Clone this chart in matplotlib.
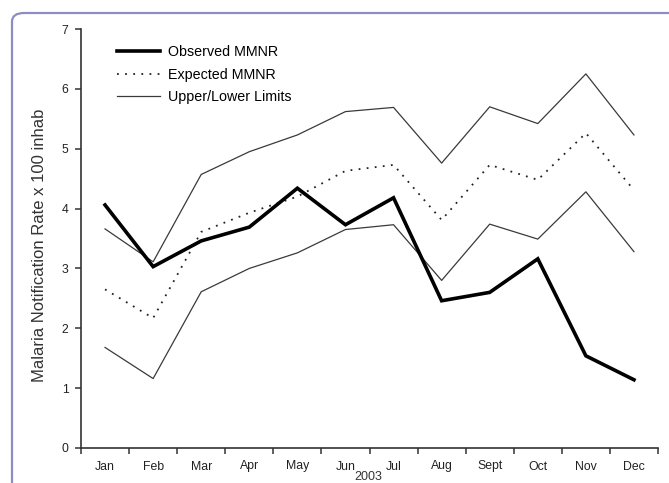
import matplotlib
matplotlib.use("Agg")
import matplotlib.pyplot as plt
from matplotlib.patches import FancyBboxPatch
from matplotlib.lines import Line2D

plt.rcParams['font.family'] = ['Liberation Sans', 'DejaVu Sans']

months = ["Jan", "Feb", "Mar", "Apr", "May", "Jun", "Jul", "Aug", "Sept", "Oct", "Nov", "Dec"]
observed = [4.06, 3.03, 3.46, 3.69, 4.34, 3.73, 4.18, 2.46, 2.60, 3.16, 1.54, 1.14]
expected = [2.65, 2.17, 3.61, 3.93, 4.20, 4.63, 4.73, 3.81, 4.73, 4.48, 5.26, 4.31]
upper = [3.66, 3.11, 4.57, 4.95, 5.23, 5.62, 5.69, 4.76, 5.70, 5.42, 6.25, 5.23]
lower = [1.68, 1.16, 2.61, 3.00, 3.26, 3.65, 3.73, 2.80, 3.74, 3.49, 4.28, 3.28]
yticks = [0, 1, 2, 3, 4, 5, 6, 7]
year_label = "2003"
ylabel = "Malaria Notification Rate x 100 inhab"

W, H = 669, 483
fig = plt.figure(figsize=(W / 100, H / 100), dpi=100)

# frame (rounded border, top/left visible)
frame = FancyBboxPatch((12 / W, -0.2), 1.2, (H - 13) / H + 0.2,
                       boxstyle="round,pad=0,rounding_size=0.018",
                       transform=fig.transFigure, fill=False,
                       edgecolor="#8f8cc4", linewidth=1.6, clip_on=False)
fig.patches.append(frame)

ax = fig.add_axes([81 / W, (H - 448) / H, (658 - 81) / W, (448 - 29) / H])
x = list(range(len(months)))
gc = "#3a3a3a"
ax.plot(x, upper, color=gc, lw=0.9)
ax.plot(x, lower, color=gc, lw=0.9)
ax.plot(x, expected, color="#222222", lw=1.3, linestyle=(0, (1, 3.5)))
ax.plot(x, observed, color="black", lw=2.6, solid_joinstyle="miter")

ax.set_xlim(-0.5, len(months) - 0.5)
ax.set_ylim(0, 7)
ax.set_yticks(yticks)
ax.set_xticks([i - 0.5 for i in range(len(months) + 1)])
ax.set_xticklabels([])
ax.set_xticks(x, minor=True)
ax.set_xticklabels(months, minor=True)
ax.tick_params(axis="x", which="minor", length=0, pad=9, labelsize=8.8, colors="#222222")
ax.tick_params(axis="x", which="major", length=4, width=1.1, color="#333333", direction="out")
ax.tick_params(axis="y", length=4, width=1.1, color="#333333", labelsize=8.8, pad=5, labelcolor="#222222")
for s in ["top", "right"]:
    ax.spines[s].set_visible(False)
for s in ["left", "bottom"]:
    ax.spines[s].set_color("#333333")
    ax.spines[s].set_linewidth(1.2)

fig.text(40 / W, (H - 245) / H, ylabel, rotation=90, ha="center", va="center",
         fontsize=12, color="#333333")
fig.text(368 / W, (H - 476.5) / H, year_label, ha="center", va="center",
         fontsize=9, color="#333333")

handles = [Line2D([], [], color="black", lw=2.6),
           Line2D([], [], color="#222222", lw=1.3, linestyle=(0, (1, 3.5))),
           Line2D([], [], color=gc, lw=0.9)]
labels = ["Observed MMNR", "Expected MMNR", "Upper/Lower Limits"]
ax.legend(handles, labels, loc="upper left", bbox_to_anchor=(0.045, 0.985),
          frameon=False, fontsize=10.3, handlelength=3.0, handletextpad=0.6,
          labelspacing=0.6, borderaxespad=0.3)

fig.savefig("out.png", dpi=100)
